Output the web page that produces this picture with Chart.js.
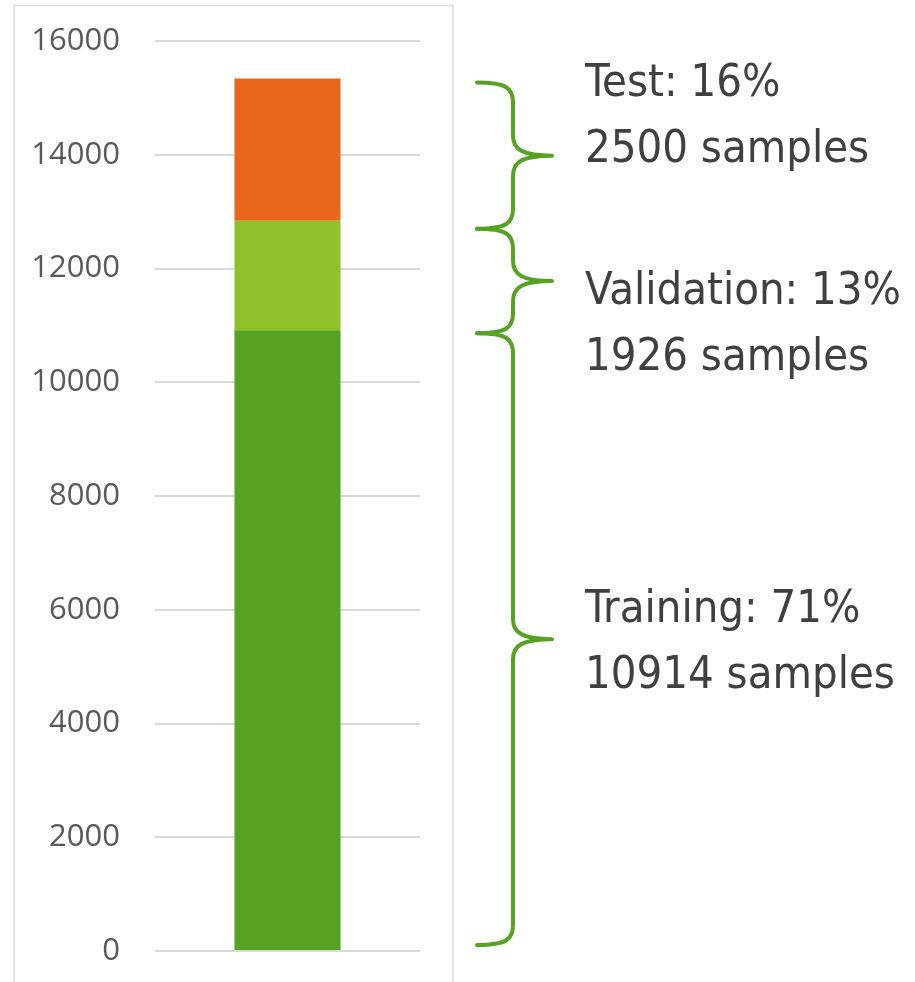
<!DOCTYPE html>
<html>
<head>
<meta charset="utf-8">
<script src="https://cdn.jsdelivr.net/npm/chart.js@4.4.1/dist/chart.umd.min.js"></script>
<style>
html,body{margin:0;padding:0;background:#fff;}
#wrap{position:relative;width:915px;height:982px;}
</style>
</head>
<body>
<div id="wrap"><canvas id="c" width="915" height="982"></canvas></div>
<script>
// ---- data ----
const categories = ["Dataset"];
const seriesNames = ["Training", "Validation", "Test"];
const trainingValues = [10914];
const validationValues = [1926];
const testValues = [2500];
const percentLabels = ["71%", "13%", "16%"];
const yTicks = [0, 2000, 4000, 6000, 8000, 10000, 12000, 14000, 16000];

const colors = { training: "#56A222", validation: "#8FC029", test: "#E8671B", brace: "#56A222" };

const frameAndBraces = {
  id: "frameAndBraces",
  beforeDraw(chart) {
    const ctx = chart.ctx;
    ctx.save();
    ctx.strokeStyle = "#d9d9d9";
    ctx.lineWidth = 1.5;
    ctx.strokeRect(14, 5.5, 439, 1000);
    ctx.restore();
  },
  afterDraw(chart) {
    const ctx = chart.ctx;
    const y = chart.scales.y;
    const tr = trainingValues[0], va = validationValues[0], te = testValues[0];
    const yTotal = y.getPixelForValue(tr + va + te);
    const yTV = y.getPixelForValue(tr + va);
    const yT = y.getPixelForValue(tr);
    const y0 = y.getPixelForValue(0);
    const xEnd = 477, xSpine = 513, xTip = 552, r = 20;
    function brace(yTop, yBot) {
      const yMid = (yTop + yBot) / 2;
      ctx.beginPath();
      ctx.moveTo(xEnd, yTop);
      ctx.bezierCurveTo(xEnd + 30, yTop, xSpine, yTop + 6, xSpine, yTop + r);
      ctx.lineTo(xSpine, yMid - r);
      ctx.bezierCurveTo(xSpine, yMid - 6, xSpine + 10, yMid, xTip, yMid);
      ctx.moveTo(xTip, yMid);
      ctx.bezierCurveTo(xSpine + 10, yMid, xSpine, yMid + 6, xSpine, yMid + r);
      ctx.lineTo(xSpine, yBot - r);
      ctx.bezierCurveTo(xSpine, yBot - 6, xEnd + 30, yBot, xEnd, yBot);
      ctx.stroke();
      return yMid;
    }
    ctx.save();
    ctx.strokeStyle = colors.brace;
    ctx.lineWidth = 4;
    ctx.lineCap = "round";
    ctx.lineJoin = "round";
    const mTest = brace(yTotal + 4, yTV + 8);
    const mVal = brace(yTV + 8, yT + 3);
    const mTrain = brace(yT + 3, y0 - 6);
    ctx.fillStyle = "#404040";
    ctx.font = "45px 'DejaVu Sans Condensed', 'DejaVu Sans'";
    ctx.textAlign = "left";
    ctx.textBaseline = "alphabetic";
    const tx = 585, lh = 66;
    const items = [
      [seriesNames[2] + ": " + percentLabels[2], te + " samples", mTest - 60],
      [seriesNames[1] + ": " + percentLabels[1], va + " samples", mVal + 23],
      [seriesNames[0] + ": " + percentLabels[0], tr + " samples", mTrain - 17]
    ];
    items.forEach(([a, b, by]) => {
      ctx.fillText(a, tx, by);
      ctx.fillText(b, tx, by + lh);
    });
    ctx.restore();
  }
};

new Chart(document.getElementById("c"), {
  type: "bar",
  data: {
    labels: categories,
    datasets: [
      { label: seriesNames[0], data: trainingValues, backgroundColor: colors.training },
      { label: seriesNames[1], data: validationValues, backgroundColor: colors.validation },
      { label: seriesNames[2], data: testValues, backgroundColor: colors.test }
    ]
  },
  options: {
    responsive: false,
    animation: false,
    devicePixelRatio: 1,
    barPercentage: 0.4,
    categoryPercentage: 1,
    layout: { padding: { left: 0, right: 495, top: 41, bottom: 31 } },
    plugins: { legend: { display: false }, tooltip: { enabled: false }, title: { display: false } },
    scales: {
      x: { stacked: true, display: false },
      y: {
        stacked: true,
        min: 0, max: 16000,
        afterBuildTicks(scale) { scale.ticks = yTicks.map(v => ({ value: v })); },
        afterFit(scale) { scale.width = 155; },
        border: { display: false },
        grid: { color: "#d9d9d9", lineWidth: 2, drawTicks: true, tickLength: 35, tickColor: "rgba(0,0,0,0)" },
        ticks: {
          padding: 0,
          color: "#595959",
          font: { family: "'Open Sans', 'Liberation Sans'", size: 31 },
          callback: v => String(v)
        }
      }
    }
  },
  plugins: [frameAndBraces]
});
</script>
</body>
</html>
